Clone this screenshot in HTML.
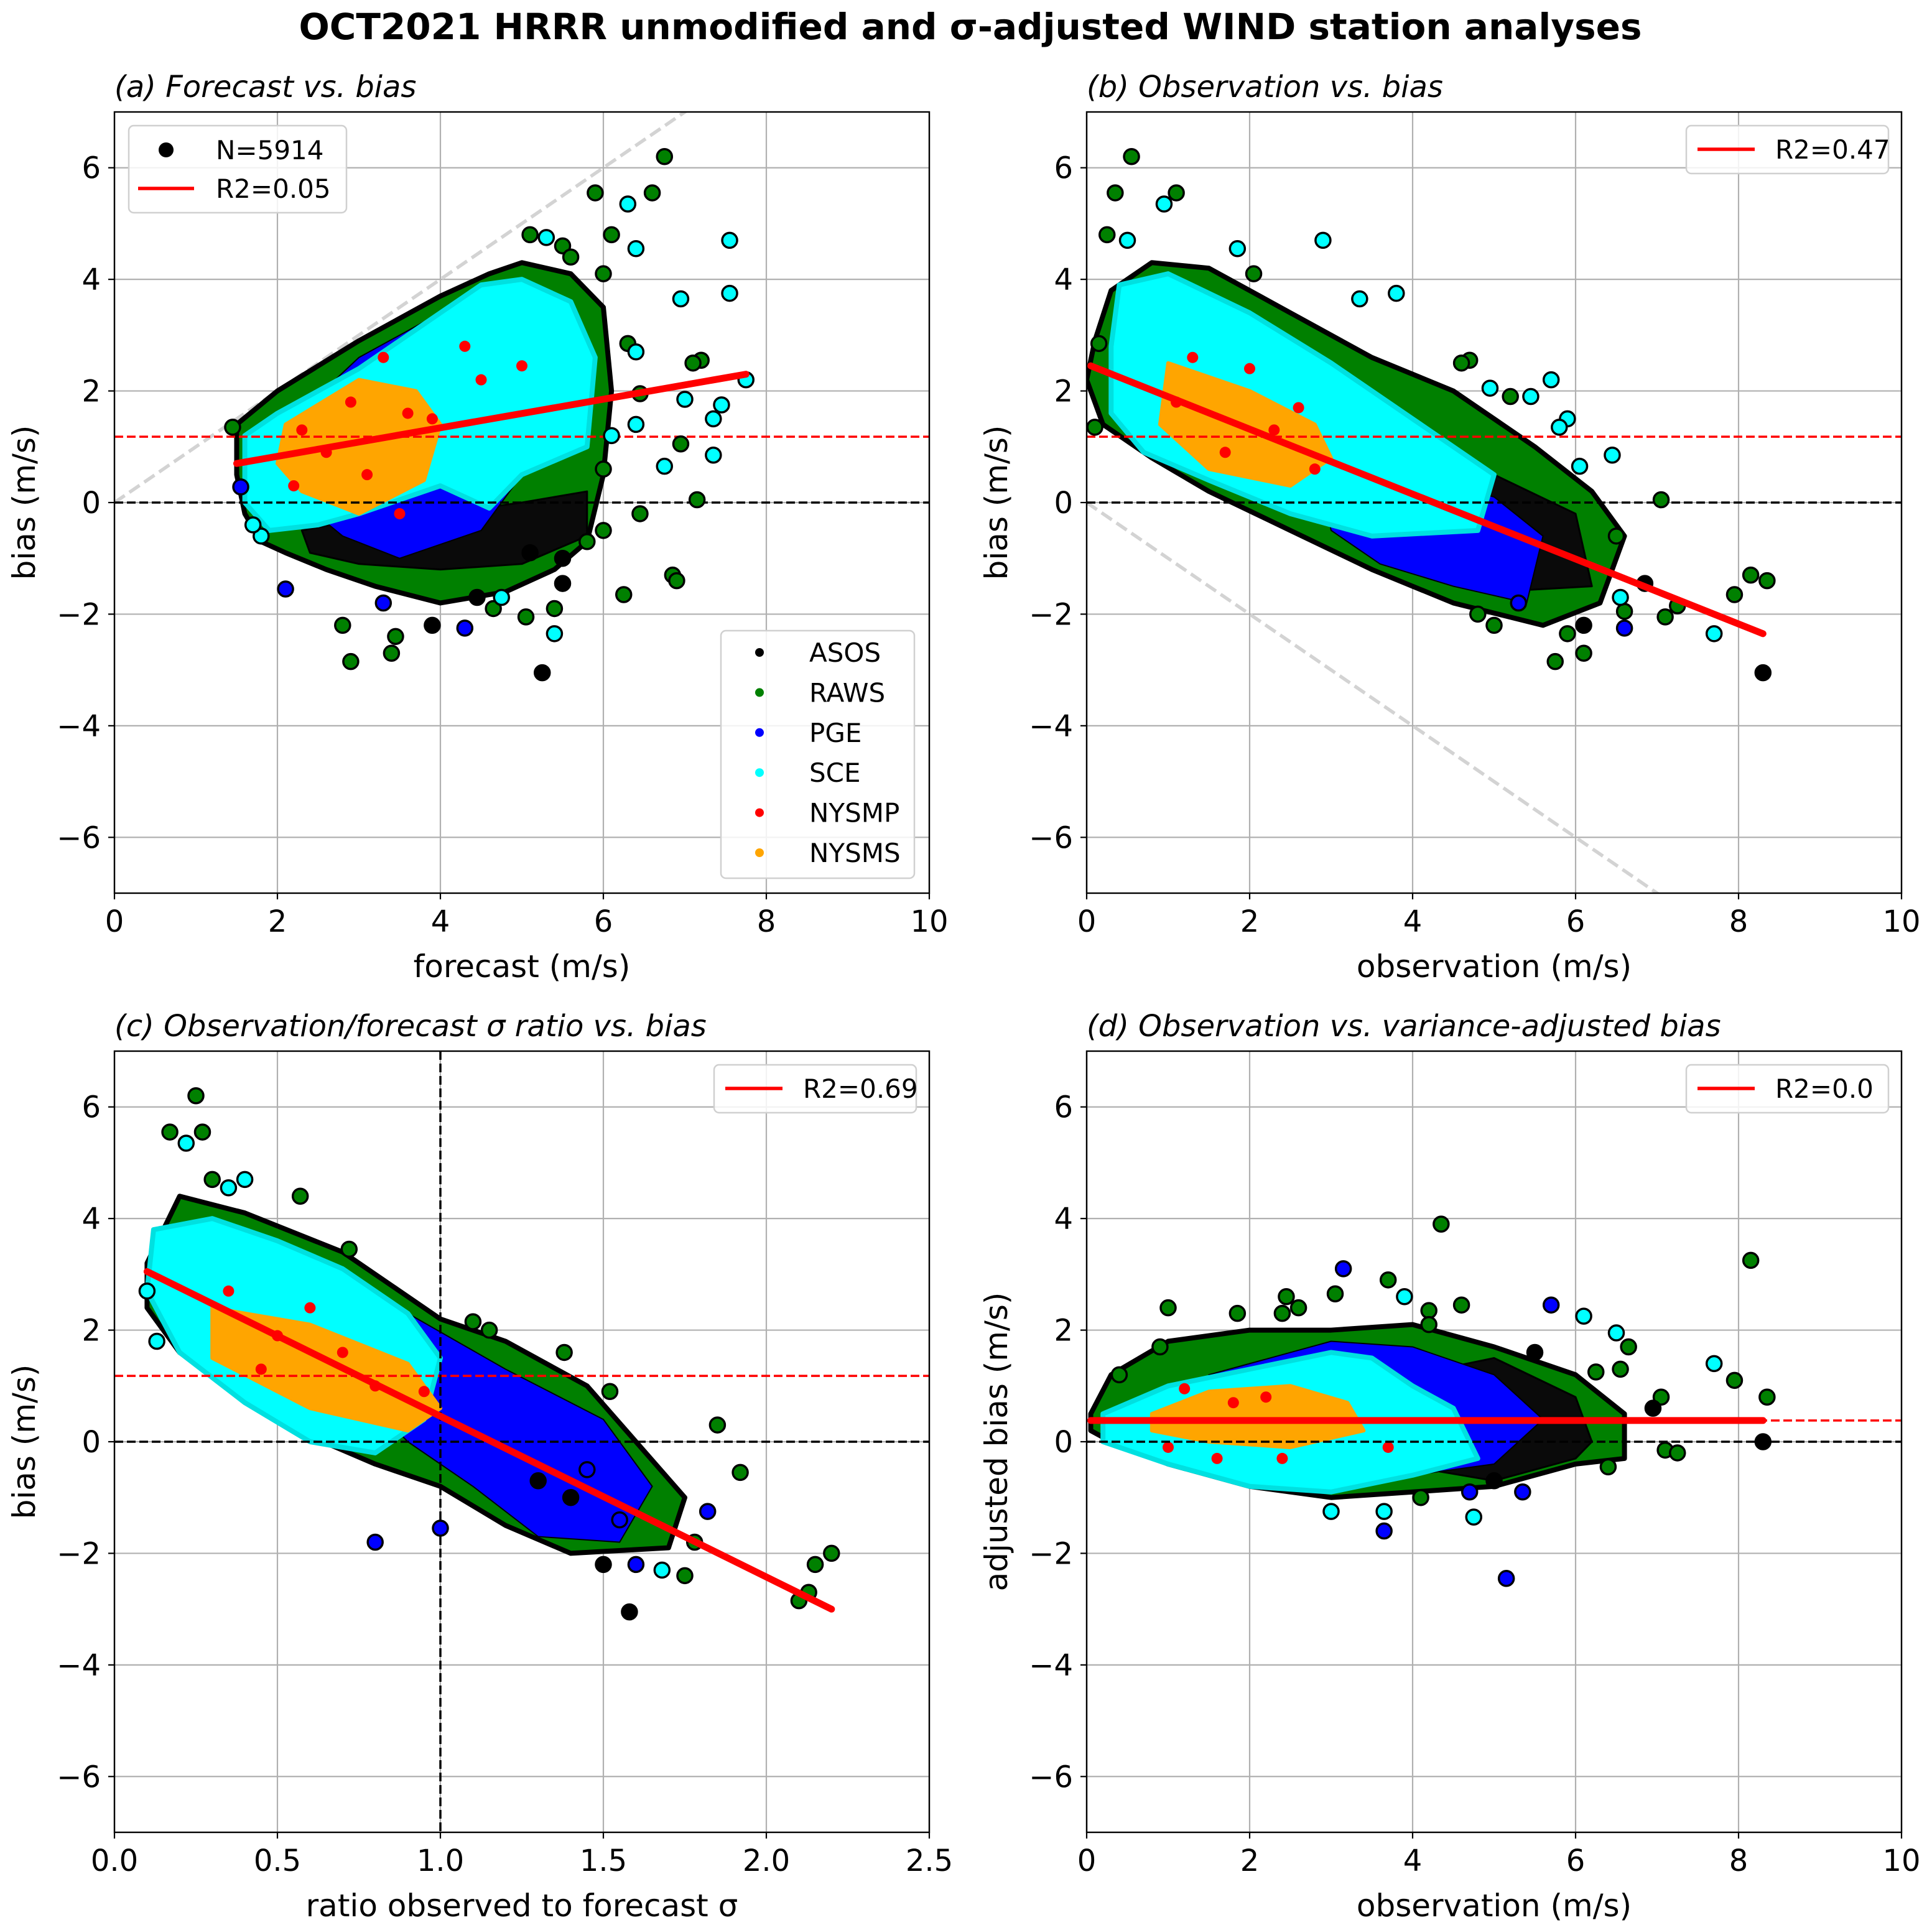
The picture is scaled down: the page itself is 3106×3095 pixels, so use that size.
<!DOCTYPE html>
<html><head><meta charset="utf-8"><style>
html,body{margin:0;padding:0;background:#fff;}
svg{display:block;font-family:"DejaVu Sans","Liberation Sans",sans-serif;}
</style></head><body>
<svg id="fig" width="3106" height="3095" viewBox="0 0 3106 3095" xmlns="http://www.w3.org/2000/svg">
<rect width="3106" height="3095" fill="#fff"/>
<text x="1560" y="63" text-anchor="middle" font-size="58" font-weight="bold">OCT2021 HRRR unmodified and σ-adjusted WIND station analyses</text>
</svg>
<script>
// ---- Panel (a) data: forecast vs bias ----
const aGreen=[[1.5,1.4],[2,2],[3,2.9],[4,3.7],[4.6,4.1],[5,4.3],[5.6,4.1],[6,3.5],[6.1,2],[6,0.5],[5.8,-0.7],[5.4,-1.2],[4.8,-1.6],[4,-1.8],[3.2,-1.5],[2.6,-1.2],[2.1,-0.9],[1.8,-0.7],[1.6,-0.2],[1.5,0.5]];
const aBlack=[[2.3,-0.5],[3,-0.3],[4,-0.2],[5,0],[5.8,0.2],[5.8,-0.6],[5,-1.1],[4,-1.2],[3,-1.1],[2.4,-0.9]];
const aBlue=[[2.2,1.5],[3,2.6],[4,3.4],[4.5,3.6],[5,3],[5,0.5],[4.5,-0.5],[3.5,-1],[2.8,-0.6],[2.3,0]];
const aCyan=[[1.6,1.2],[2,1.6],[3,2.4],[3.8,3.2],[4.5,3.9],[5,4],[5.6,3.6],[5.9,2.6],[5.8,1],[5,0.5],[4.6,-0.1],[4,0.3],[3,-0.2],[2.5,-0.4],[1.9,-0.5],[1.6,0]];
const aOrange=[[2.1,1.4],[3,2.2],[3.7,2.0],[4.0,1.4],[3.8,0.4],[3,-0.2],[2.3,0.2],[2,0.7]];
const aRed=[[2.3,1.3],[2.9,1.8],[3.3,2.6],[3.6,1.6],[4.3,2.8],[3.9,1.5],[2.6,0.9],[3.1,0.5],[5,2.45],[4.5,2.2],[2.2,0.3],[3.5,-0.2]];
const aOut=[[5.25,-3.05,'k'],[2.9,-2.85,'g'],[3.4,-2.7,'g'],[2.8,-2.2,'g'],[3.45,-2.4,'g'],[3.9,-2.2,'k'],[4.3,-2.25,'b'],[2.1,-1.55,'b'],[3.3,-1.8,'b'],[5.4,-2.35,'c'],[6.25,-1.65,'g'],[6.85,-1.3,'g'],[6.9,-1.4,'g'],[7.15,0.05,'g'],[6.75,0.65,'c'],[6.95,1.05,'g'],[7.0,1.85,'c'],[7.35,1.5,'c'],[7.35,0.85,'c'],[7.45,1.75,'c'],[7.75,2.2,'c'],[7.2,2.55,'g'],[7.1,2.5,'g'],[7.55,3.75,'c'],[7.55,4.7,'c'],[6.95,3.65,'c'],[6.4,4.55,'c'],[6.3,5.35,'c'],[6.6,5.55,'g'],[6.75,6.2,'g'],[5.9,5.55,'g'],[6.1,4.8,'g'],[5.5,4.6,'g'],[5.6,4.4,'g'],[5.1,4.8,'g'],[5.3,4.75,'c'],[6.0,4.1,'g'],[6.3,2.85,'g'],[6.4,2.7,'c'],[6.45,1.95,'g'],[6.4,1.4,'c'],[6.45,-0.2,'g'],[6,0.6,'g'],[5.5,-1.45,'k'],[5.05,-2.05,'g'],[5.4,-1.9,'g'],[4.65,-1.9,'g'],[4.75,-1.7,'c'],[4.45,-1.7,'k'],[1.45,1.35,'g'],[1.55,0.28,'b'],[6.1,1.2,'c'],[6.0,-0.5,'g'],[5.8,-0.7,'g'],[5.5,-1.0,'k'],[5.1,-0.9,'k'],[1.8,-0.6,'c'],[1.7,-0.4,'c']];
const aFit=[[1.5,0.7],[7.75,2.3]];
// ---- Panel (b) data: observation vs bias ----
const bGreen=[[0.1,2.9],[0.3,3.8],[0.8,4.3],[1.5,4.2],[2.5,3.4],[3.5,2.6],[4.5,2],[5.5,1],[6.2,0.2],[6.6,-0.6],[6.3,-1.8],[5.6,-2.2],[4.5,-1.8],[3.5,-1.2],[2.5,-0.5],[1.5,0.2],[0.8,0.8],[0.2,1.4],[0,2.2]];
const bBlack=[[3,1],[4,0.8],[5,0.5],[6,-0.2],[6.2,-1.5],[5,-1.6],[4,-1.2],[3.2,-0.6]];
const bBlue=[[2.8,0.9],[4,0.5],[5,0.1],[5.6,-0.6],[5.4,-1.8],[4.5,-1.5],[3.6,-1.1],[3,-0.5]];
const bCyan=[[0.4,3.9],[1,4.1],[2,3.4],[3,2.5],[4,1.5],[5,0.5],[4.8,-0.5],[3.5,-0.6],[2.5,-0.2],[1.5,0.4],[0.7,0.9],[0.3,1.6],[0.3,2.8]];
const bOrange=[[1.0,2.5],[2,2],[2.8,1.4],[3,0.8],[2.5,0.3],[1.5,0.6],[0.9,1.4]];
const bRed=[[1.3,2.6],[2.0,2.4],[2.3,1.3],[1.7,0.9],[2.8,0.6],[1.1,1.8],[2.6,1.7]];
const bOut=[[8.3,-3.05,'k'],[8.35,-1.4,'g'],[8.15,-1.3,'g'],[7.95,-1.65,'g'],[7.7,-2.35,'c'],[7.25,-1.85,'g'],[7.1,-2.05,'g'],[7.05,0.05,'g'],[6.85,-1.45,'k'],[6.6,-1.95,'g'],[6.55,-1.7,'c'],[6.5,-0.6,'g'],[6.45,0.85,'c'],[6.05,0.65,'c'],[6.1,-2.7,'g'],[5.9,-2.35,'g'],[5.75,-2.85,'g'],[6.1,-2.2,'k'],[5.9,1.5,'c'],[5.7,2.2,'c'],[5.8,1.35,'c'],[5.45,1.9,'c'],[5.2,1.9,'g'],[4.95,2.05,'c'],[4.7,2.55,'g'],[4.6,2.5,'g'],[3.8,3.75,'c'],[3.35,3.65,'c'],[2.9,4.7,'c'],[2.05,4.1,'g'],[1.85,4.55,'c'],[0.55,6.2,'g'],[0.35,5.55,'g'],[1.1,5.55,'g'],[0.95,5.35,'c'],[0.25,4.8,'g'],[0.1,1.35,'g'],[0.15,2.85,'g'],[0.5,4.7,'c'],[5.0,-2.2,'g'],[4.8,-2.0,'g'],[5.3,-1.8,'b'],[6.6,-2.25,'b']];
const bFit=[[0.05,2.45],[8.3,-2.35]];
// ---- Panel (c) data: sigma ratio vs bias ----
const cGreen=[[0.1,3.2],[0.2,4.4],[0.4,4.1],[0.7,3.4],[1.0,2.2],[1.2,1.8],[1.45,1.0],[1.6,0],[1.75,-1],[1.7,-1.9],[1.4,-2.0],[1.2,-1.5],[1.0,-0.8],[0.8,-0.4],[0.6,0.1],[0.4,0.8],[0.2,1.6],[0.1,2.4]];
const cBlue=[[0.7,2.8],[0.9,2.3],[1.2,1.3],[1.5,0.4],[1.65,-0.8],[1.55,-1.8],[1.3,-1.7],[1.1,-0.8],[0.9,0],[0.7,1.2]];
const cCyan=[[0.12,3.8],[0.3,4],[0.5,3.6],[0.7,3.1],[0.9,2.3],[1.0,1.5],[0.95,0.4],[0.8,-0.2],[0.6,0.0],[0.4,0.7],[0.2,1.6],[0.1,2.7]];
const cOrange=[[0.3,2.4],[0.6,2.1],[0.9,1.4],[1.0,0.6],[0.9,0.2],[0.6,0.6],[0.3,1.5]];
const cRed=[[0.35,2.7],[0.5,1.9],[0.7,1.6],[0.8,1.0],[0.45,1.3],[0.95,0.9],[0.6,2.4]];
const cOut=[[1.58,-3.05,'k'],[2.2,-2.0,'g'],[2.13,-2.7,'g'],[2.15,-2.2,'g'],[2.1,-2.85,'g'],[1.92,-0.55,'g'],[1.85,0.3,'g'],[1.82,-1.25,'b'],[1.78,-1.8,'g'],[1.75,-2.4,'g'],[1.68,-2.3,'c'],[1.6,-2.2,'b'],[1.5,-2.2,'k'],[1.52,0.9,'g'],[1.38,1.6,'g'],[0.8,-1.8,'b'],[1.0,-1.55,'b'],[0.25,6.2,'g'],[0.17,5.55,'g'],[0.22,5.35,'c'],[0.27,5.55,'g'],[0.3,4.7,'g'],[0.4,4.7,'c'],[0.35,4.55,'c'],[0.57,4.4,'g'],[0.1,2.7,'c'],[0.13,1.8,'c'],[0.72,3.45,'g'],[1.15,2.0,'g'],[1.1,2.15,'g'],[1.45,-0.5,'b'],[1.4,-1.0,'k'],[1.3,-0.7,'k'],[1.55,-1.4,'b']];
const cFit=[[0.1,3.05],[2.2,-3.0]];
// ---- Panel (d) data: observation vs adjusted bias ----
const dGreen=[[0.05,0.5],[0.3,1.2],[1,1.8],[2,2.0],[3,2.0],[4,2.1],[5,1.7],[6,1.2],[6.6,0.5],[6.6,-0.3],[6,-0.4],[5,-0.8],[4,-0.9],[3,-1.0],[2,-0.8],[1,-0.4],[0.3,0],[0.05,0.2]];
const dBlack=[[4,1.2],[5,1.5],[6,0.8],[6.2,0],[6,-0.3],[5,-0.7],[4.2,-0.5]];
const dBlue=[[1.5,1.2],[2,1.4],[3,1.8],[4,1.7],[5,1.2],[5.6,0.4],[5,-0.4],[4,-0.6],[3,-0.5],[2,-0.3]];
const dCyan=[[0.2,0.5],[1,1.0],[2,1.3],[3,1.6],[3.5,1.5],[4,1.0],[4.5,0.6],[4.8,-0.3],[4,-0.6],[3,-0.9],[2,-0.8],[1,-0.4],[0.2,0]];
const dOrange=[[0.8,0.5],[1.5,0.9],[2.5,1.0],[3.2,0.7],[3.4,0.2],[2.5,-0.1],[1.5,0.0],[0.8,0.2]];
const dRed=[[1.2,0.95],[1.8,0.7],[2.2,0.8],[1.0,-0.1],[2.4,-0.3],[1.6,-0.3],[3.7,-0.1]];
const dOut=[[4.35,3.9,'g'],[8.15,3.25,'g'],[3.15,3.1,'b'],[3.7,2.9,'g'],[3.9,2.6,'c'],[2.45,2.6,'g'],[2.6,2.4,'g'],[3.05,2.65,'g'],[2.4,2.3,'g'],[1.85,2.3,'g'],[1.0,2.4,'g'],[4.6,2.45,'g'],[5.7,2.45,'b'],[6.1,2.25,'c'],[6.5,1.95,'c'],[6.65,1.7,'g'],[7.7,1.4,'c'],[7.95,1.1,'g'],[8.35,0.8,'g'],[8.3,0.0,'k'],[7.05,0.8,'g'],[6.95,0.6,'k'],[7.1,-0.15,'g'],[7.25,-0.2,'g'],[6.55,1.3,'g'],[6.25,1.25,'g'],[5.15,-2.45,'b'],[3.65,-1.6,'b'],[3.65,-1.25,'c'],[4.75,-1.35,'c'],[4.1,-1.0,'g'],[4.7,-0.9,'b'],[5.35,-0.9,'b'],[5.0,-0.7,'k'],[3.0,-1.25,'c'],[6.4,-0.45,'g'],[5.5,1.6,'k'],[4.2,2.35,'g'],[4.2,2.1,'g'],[0.9,1.7,'g'],[0.4,1.2,'g']];
const dFit=[[0.05,0.38],[8.3,0.38]];

const yTicks=[-6,-4,-2,0,2,4,6];
const yTickLabels=["−6","−4","−2","0","2","4","6"];
const xTicksWind=[0,2,4,6,8,10];
const xTickLabelsWind=["0","2","4","6","8","10"];
const xTicksRatio=[0,0.5,1,1.5,2,2.5];
const xTickLabelsRatio=["0.0","0.5","1.0","1.5","2.0","2.5"];
const meanBias=1.18, meanAdj=0.38;
const stations=["ASOS","RAWS","PGE","SCE","NYSMP","NYSMS"];
const stationColors=["#000000","#008000","#0000ff","#00ffff","#ff0000","#ffa500"];

const NS="http://www.w3.org/2000/svg";
const fig=document.getElementById('fig');
const COL={k:"#000000",g:"#008000",b:"#0000ff",c:"#00ffff",r:"#ff0000",o:"#ffa500"};
function mk(tag,attrs,parent){const e=document.createElementNS(NS,tag);for(const k in attrs)e.setAttribute(k,attrs[k]);(parent||fig).appendChild(e);return e;}

function panel(p){
  const W=1310,H=1256;
  const g=mk('g',{});
  
  
  const sx=x=>p.L+(x-p.x0)/(p.x1-p.x0)*W;
  const sy=y=>p.T+(p.y1-y)/(p.y1-p.y0)*H;
  const cid='clip-'+p.name;
  const cp=mk('clipPath',{id:cid},g);mk('rect',{x:p.L,y:p.T,width:W,height:H},cp);
  p.xt.forEach((t,i)=>{const l=mk('line',{x1:sx(t),x2:sx(t),y1:p.T,y2:p.T+H,stroke:'#b0b0b0','stroke-width':2.2},g);
    
    
    mk('line',{x1:sx(t),x2:sx(t),y1:p.T+H,y2:p.T+H+10,stroke:'#000','stroke-width':2.2},g);
    const tx=mk('text',{x:sx(t),y:p.T+H+62,'text-anchor':'middle','font-size':48},g);tx.textContent=p.xl[i];
    
    });
  yTicks.forEach((t,i)=>{const l=mk('line',{x1:p.L,x2:p.L+W,y1:sy(t),y2:sy(t),stroke:'#b0b0b0','stroke-width':2.2},g);
    
    
    mk('line',{x1:p.L-10,x2:p.L,y1:sy(t),y2:sy(t),stroke:'#000','stroke-width':2.2},g);
    const tx=mk('text',{x:p.L-22,y:sy(t)+17,'text-anchor':'end','font-size':48},g);tx.textContent=yTickLabels[i];
    
    });
  const inner=mk('g',{'clip-path':'url(#'+cid+')'},g);
  if(p.diag){const d=mk('line',{x1:sx(0),y1:sy(0),x2:sx(10),y2:sy(10*p.diag),stroke:'#d3d3d3','stroke-width':5.5,'stroke-dasharray':'20,9'},inner);
    
    }
  const poly=(pts,fill,stroke,sw,nm)=>{const e=mk('polygon',{points:pts.map(q=>sx(q[0])+','+sy(q[1])).join(' '),fill:fill,stroke:stroke,'stroke-width':sw,'stroke-linejoin':'round'},inner);
    
    };
  poly(p.green,'#008000','#000',8,'raws-cluster');
  if(p.black)poly(p.black,'#0a0a0a','#000',3,'asos-cluster');
  poly(p.blue,'#0000ff','#000',2,'pge-cluster');
  poly(p.cyan,'#00ffff','#00e0e0',8,'sce-cluster');
  poly(p.orange,'#ffa500','#ffa500',6,'nysms-cluster');
  p.red.forEach(q=>{const c=mk('circle',{cx:sx(q[0]),cy:sy(q[1]),r:9,fill:'#ff0000'},inner);
    
    });
  const z=mk('line',{x1:p.L,x2:p.L+W,y1:sy(0),y2:sy(0),stroke:'#000','stroke-width':3.5,'stroke-dasharray':'14,6'},inner);
  
  
  const mb=mk('line',{x1:p.L,x2:p.L+W,y1:sy(p.mean),y2:sy(p.mean),stroke:'#ff0000','stroke-width':3.5,'stroke-dasharray':'14,6'},inner);
  
  
  if(p.vline){const v=mk('line',{x1:sx(p.vline),x2:sx(p.vline),y1:p.T,y2:p.T+H,stroke:'#000','stroke-width':3.5,'stroke-dasharray':'14,6'},inner);
    
    }
  p.out.forEach(q=>{const c=mk('circle',{cx:sx(q[0]),cy:sy(q[1]),r:12,fill:COL[q[2]],stroke:'#000','stroke-width':3.5},inner);
    
    });
  const f=mk('line',{x1:sx(p.fit[0][0]),y1:sy(p.fit[0][1]),x2:sx(p.fit[1][0]),y2:sy(p.fit[1][1]),stroke:'#ff0000','stroke-width':11,'stroke-linecap':'round'},inner);
  
  
  const sp=mk('rect',{x:p.L,y:p.T,width:W,height:H,fill:'none',stroke:'#000','stroke-width':2.4},g);
  
  
  const tt=mk('text',{x:p.L,y:p.T-24,'font-size':48,'font-style':'italic'},g);tt.textContent=p.title;
  
  
  const xl=mk('text',{x:p.L+W/2,y:p.T+H+135,'text-anchor':'middle','font-size':50},g);xl.textContent=p.xlabel;
  
  
  const yl=mk('text',{x:0,y:0,'text-anchor':'middle','font-size':50,transform:'translate('+(p.L-128)+','+(p.T+H/2)+') rotate(-90)'},g);yl.textContent=p.ylabel;
  
  
  if(p.r2box){const bx=p.L+W-346,by=p.T+22;
    const lg=mk('g',{},g);
    
    
    mk('rect',{x:bx,y:by,width:325,height:77,rx:8,fill:'#fff','fill-opacity':0.85,stroke:'#d0d0d0','stroke-width':2.5},lg);
    mk('line',{x1:bx+18,x2:bx+110,y1:by+38,y2:by+38,stroke:'#ff0000','stroke-width':5.5},lg);
    const t=mk('text',{x:bx+143,y:by+53,'font-size':42},lg);t.textContent=p.r2box;}
  return {sx,sy,g};
}

const a=panel({name:'panel-a-forecast-vs-bias',L:184,T:180,x0:0,x1:10,y0:-7,y1:7,xt:xTicksWind,xl:xTickLabelsWind,green:aGreen,black:aBlack,blue:aBlue,cyan:aCyan,orange:aOrange,red:aRed,out:aOut,fit:aFit,mean:meanBias,diag:1,title:'(a) Forecast vs. bias',xlabel:'forecast (m/s)',ylabel:'bias (m/s)'});
panel({name:'panel-b-observation-vs-bias',L:1747,T:180,x0:0,x1:10,y0:-7,y1:7,xt:xTicksWind,xl:xTickLabelsWind,green:bGreen,black:bBlack,blue:bBlue,cyan:bCyan,orange:bOrange,red:bRed,out:bOut,fit:bFit,mean:meanBias,diag:-1,title:'(b) Observation vs. bias',xlabel:'observation (m/s)',ylabel:'bias (m/s)',r2box:'R2=0.47'});
panel({name:'panel-c-ratio-vs-bias',L:184,T:1690,x0:0,x1:2.5,y0:-7,y1:7,xt:xTicksRatio,xl:xTickLabelsRatio,green:cGreen,black:null,blue:cBlue,cyan:cCyan,orange:cOrange,red:cRed,out:cOut,fit:cFit,mean:meanBias,vline:1,title:'(c) Observation/forecast σ ratio vs. bias',xlabel:'ratio observed to forecast σ',ylabel:'bias (m/s)',r2box:'R2=0.69'});
panel({name:'panel-d-observation-vs-adjusted-bias',L:1747,T:1690,x0:0,x1:10,y0:-7,y1:7,xt:xTicksWind,xl:xTickLabelsWind,green:dGreen,black:dBlack,blue:dBlue,cyan:dCyan,orange:dOrange,red:dRed,out:dOut,fit:dFit,mean:meanAdj,title:'(d) Observation vs. variance-adjusted bias',xlabel:'observation (m/s)',ylabel:'adjusted bias (m/s)',r2box:'R2=0.0'});

const lg1=mk('g',{},a.g);


mk('rect',{x:207,y:202,width:350,height:140,rx:8,fill:'#fff','fill-opacity':0.85,stroke:'#d0d0d0','stroke-width':2.5},lg1);
mk('circle',{cx:267,cy:241,r:12,fill:'#000'},lg1);
let t1=mk('text',{x:347,y:256,'font-size':42},lg1);t1.textContent='N=5914';
mk('line',{x1:222,x2:312,y1:303,y2:303,stroke:'#ff0000','stroke-width':5.5},lg1);
let t2=mk('text',{x:347,y:318,'font-size':42},lg1);t2.textContent='R2=0.05';
const lg2=mk('g',{},a.g);


mk('rect',{x:1159,y:1014,width:311,height:398,rx:8,fill:'#fff','fill-opacity':0.85,stroke:'#d0d0d0','stroke-width':2.5},lg2);
stations.forEach((s,i)=>{const y=1049+i*64.4;
  const e=mk('g',{},lg2);
  
  
  mk('circle',{cx:1221,cy:y,r:7,fill:stationColors[i]},e);
  const t=mk('text',{x:1301,y:y+15,'font-size':42},e);t.textContent=s;});
</script>
</body></html>
